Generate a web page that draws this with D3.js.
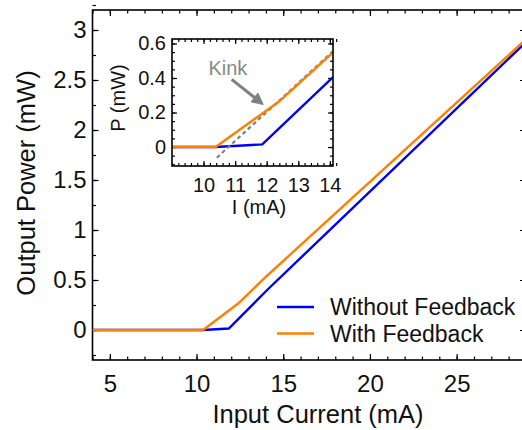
<!DOCTYPE html>
<html>
<head>
<meta charset="utf-8">
<script src="https://cdn.jsdelivr.net/npm/d3@7/dist/d3.min.js"></script>
<style>
  html, body { margin: 0; padding: 0; background: #fff; }
  svg { display: block; font-family: "Liberation Sans", Arial, sans-serif; }
</style>
</head>
<body>
<svg id="chart" width="522" height="430"></svg>
<script>
// ---- data ----
const currentWithFb   = [4, 10.38, 12.4, 14.05, 29];
const powerWithFb     = [0, 0, 0.265, 0.54, 2.907];
const currentNoFb     = [4, 10.38, 11.86, 14.1, 29];
const powerNoFb       = [0, 0, 0.015, 0.405, 2.88];
const fitCurrent      = [10.42, 14.1];
const fitPower        = [-0.062, 0.555];
const seriesNames     = ["Without Feedback", "With Feedback"];
const seriesColors    = ["#0000ff", "#ff8000"];
const xTicks          = [5, 10, 15, 20, 25];
const yTicks          = [0, 0.5, 1, 1.5, 2, 2.5, 3];
const yTickLabels     = ["0", "0.5", "1", "1.5", "2", "2.5", "3"];
const insetXTicks     = [10, 11, 12, 13, 14];
const insetYTicks     = [0, 0.2, 0.4, 0.6];
const insetYTickLabels= ["0", "0.2", "0.4", "0.6"];
const kinkLabel       = "Kink";
const kinkTextPos     = [10.77, 0.42];
const kinkArrowFrom   = [10.89, 0.392];
const kinkArrowTo     = [11.85, 0.252];

const zip = (a, b) => a.map((v, i) => [v, b[i]]);
const svg = d3.select("#chart");

// ---- main scales ----
const L = 92.5, R = 526, T = 10, B = 360;
const x = d3.scaleLinear().domain([4, 29]).range([L, R]);
const y = d3.scaleLinear().domain([-0.3, 3.2]).range([B, T]);

const defs = svg.append("defs");
defs.append("clipPath").attr("id", "mainClip")
  .append("rect").attr("x", L).attr("y", T).attr("width", R - L).attr("height", B - T);

function styleAxis(g, fs) {
  g.select(".domain").remove();
  g.selectAll(".tick line").attr("stroke", "#000").attr("stroke-width", 1.2);
  g.selectAll("text").attr("fill", "#111").style("font-size", fs + "px")
    .style("font-family", '"Liberation Sans", Arial, sans-serif');
}
const minor = (lo, hi, step) => d3.range(Math.round(lo / step), Math.round(hi / step) + 1).map(k => +(k * step).toFixed(6));

// minor ticks
const xMinor = minor(4, 29, 1);
const yMinor = minor(-0.25, 3.2, 0.25);
svg.append("g").attr("transform", `translate(0,${B})`).call(d3.axisBottom(x).tickValues(xMinor).tickSize(-3.5).tickFormat("")).call(g => styleAxis(g, 10));
svg.append("g").attr("transform", `translate(0,${T})`).call(d3.axisTop(x).tickValues(xMinor).tickSize(-3.5).tickFormat("")).call(g => styleAxis(g, 10));
svg.append("g").attr("transform", `translate(${L},0)`).call(d3.axisLeft(y).tickValues(yMinor).tickSize(-3.5).tickFormat("")).call(g => styleAxis(g, 10));
svg.append("g").attr("transform", `translate(${R},0)`).call(d3.axisRight(y).tickValues(yMinor).tickSize(-3.5).tickFormat("")).call(g => styleAxis(g, 10));

// major ticks
svg.append("g").attr("transform", `translate(0,${B})`)
  .call(d3.axisBottom(x).tickValues(xTicks).tickSize(-6).tickPadding(15).tickFormat(d3.format("d")))
  .call(g => styleAxis(g, 24));
svg.append("g").attr("transform", `translate(0,${T})`)
  .call(d3.axisTop(x).tickValues(xTicks).tickSize(-6).tickFormat(""))
  .call(g => styleAxis(g, 24));
svg.append("g").attr("transform", `translate(${L},0)`)
  .call(d3.axisLeft(y).tickValues(yTicks).tickSize(-6).tickPadding(6).tickFormat((d, i) => yTickLabels[i]))
  .call(g => styleAxis(g, 24));
svg.append("g").attr("transform", `translate(${R},0)`)
  .call(d3.axisRight(y).tickValues(yTicks).tickSize(-6).tickFormat(""))
  .call(g => styleAxis(g, 24));

// frame
svg.append("rect").attr("x", L).attr("y", T).attr("width", R - L).attr("height", B - T)
  .attr("fill", "none").attr("stroke", "#000").attr("stroke-width", 1.6);

// lines
const line = d3.line().x(d => x(d[0])).y(d => y(d[1]));
const gLines = svg.append("g").attr("clip-path", "url(#mainClip)");
gLines.append("path").datum(zip(currentNoFb, powerNoFb)).attr("d", line)
  .attr("fill", "none").attr("stroke", seriesColors[0]).attr("stroke-width", 2.4);
gLines.append("path").datum(zip(currentWithFb, powerWithFb)).attr("d", line)
  .attr("fill", "none").attr("stroke", seriesColors[1]).attr("stroke-width", 2.4);

// axis titles
svg.append("text").attr("x", 318).attr("y", 423).attr("text-anchor", "middle")
  .style("font-size", "25.5px").attr("fill", "#111").text("Input Current (mA)");
svg.append("text").attr("transform", "translate(35,183) rotate(-90)").attr("text-anchor", "middle")
  .style("font-size", "25.5px").attr("fill", "#111").text("Output Power (mW)");

// legend
const leg = svg.append("g");
seriesNames.forEach((name, i) => {
  const yy = 307 + i * 26.5;
  leg.append("line").attr("x1", 277).attr("x2", 314).attr("y1", yy).attr("y2", yy)
    .attr("stroke", seriesColors[i]).attr("stroke-width", 2.4);
  leg.append("text").attr("x", 330).attr("y", yy + 8).style("font-size", "23px")
    .attr("fill", "#111").text(name);
});

// ---- inset ----
const iL = 172, iR = 333, iT = 39, iB = 166;
const xi = d3.scaleLinear().domain([9, 14.1]).range([iL, iR]);
const yi = d3.scaleLinear().domain([-0.11, 0.626]).range([iB, iT]);
defs.append("clipPath").attr("id", "insetClip")
  .append("rect").attr("x", iL).attr("y", iT).attr("width", iR - iL).attr("height", iB - iT);

const ins = svg.append("g");
ins.append("rect").attr("x", iL).attr("y", iT).attr("width", iR - iL).attr("height", iB - iT).attr("fill", "#fff");

const ixMinor = minor(9, 14.1, 0.2);
const iyMinor = minor(-0.1, 0.6, 0.05);
ins.append("g").attr("transform", `translate(0,${iB})`).call(d3.axisBottom(xi).tickValues(ixMinor).tickSize(-3).tickFormat("")).call(g => styleAxis(g, 10));
ins.append("g").attr("transform", `translate(0,${iT})`).call(d3.axisTop(xi).tickValues(ixMinor).tickSize(-3).tickFormat("")).call(g => styleAxis(g, 10));
ins.append("g").attr("transform", `translate(${iL},0)`).call(d3.axisLeft(yi).tickValues(iyMinor).tickSize(-3).tickFormat("")).call(g => styleAxis(g, 10));
ins.append("g").attr("transform", `translate(${iR},0)`).call(d3.axisRight(yi).tickValues(iyMinor).tickSize(-3).tickFormat("")).call(g => styleAxis(g, 10));

ins.append("g").attr("transform", `translate(0,${iB})`)
  .call(d3.axisBottom(xi).tickValues(insetXTicks).tickSize(-5).tickPadding(12).tickFormat(d3.format("d")))
  .call(g => styleAxis(g, 20));
ins.append("g").attr("transform", `translate(0,${iT})`)
  .call(d3.axisTop(xi).tickValues(insetXTicks).tickSize(-5).tickFormat(""))
  .call(g => styleAxis(g, 20));
ins.append("g").attr("transform", `translate(${iL},0)`)
  .call(d3.axisLeft(yi).tickValues(insetYTicks).tickSize(-5).tickPadding(6).tickFormat((d, i) => insetYTickLabels[i]))
  .call(g => styleAxis(g, 20));
ins.append("g").attr("transform", `translate(${iR},0)`)
  .call(d3.axisRight(yi).tickValues(insetYTicks).tickSize(-5).tickFormat(""))
  .call(g => styleAxis(g, 20));

const iline = d3.line().x(d => xi(d[0])).y(d => yi(d[1]));
const gi = ins.append("g").attr("clip-path", "url(#insetClip)");
gi.append("path").datum(zip(currentNoFb, powerNoFb)).attr("d", iline)
  .attr("fill", "none").attr("stroke", seriesColors[0]).attr("stroke-width", 2.4);
gi.append("path").datum(zip(fitCurrent, fitPower)).attr("d", iline)
  .attr("fill", "none").attr("stroke", "#808080").attr("stroke-width", 2.2).attr("stroke-dasharray", "4,3");
gi.append("path").datum(zip(currentWithFb, powerWithFb)).attr("d", iline)
  .attr("fill", "none").attr("stroke", seriesColors[1]).attr("stroke-width", 2.4);

ins.append("rect").attr("x", iL).attr("y", iT).attr("width", iR - iL).attr("height", iB - iT)
  .attr("fill", "none").attr("stroke", "#000").attr("stroke-width", 1.6);

// kink annotation
ins.append("text").attr("x", xi(kinkTextPos[0])).attr("y", yi(kinkTextPos[1])).attr("text-anchor", "middle")
  .style("font-size", "20px").attr("fill", "#888").text(kinkLabel);
defs.append("marker").attr("id", "arrowHead").attr("viewBox", "0 0 10 10").attr("refX", 8).attr("refY", 5)
  .attr("markerWidth", 4.2).attr("markerHeight", 4.2).attr("orient", "auto")
  .append("path").attr("d", "M0,0 L10,5 L0,10 z").attr("fill", "#808080");
ins.append("line")
  .attr("x1", xi(kinkArrowFrom[0])).attr("y1", yi(kinkArrowFrom[1]))
  .attr("x2", xi(kinkArrowTo[0])).attr("y2", yi(kinkArrowTo[1]))
  .attr("stroke", "#808080").attr("stroke-width", 3).attr("marker-end", "url(#arrowHead)");

// inset axis titles
ins.append("text").attr("x", 259).attr("y", 214).attr("text-anchor", "middle")
  .style("font-size", "20px").attr("fill", "#111").text("I (mA)");
ins.append("text").attr("transform", "translate(125,98) rotate(-90)").attr("text-anchor", "middle")
  .style("font-size", "20px").attr("fill", "#111").text("P (mW)");
</script>
</body>
</html>
